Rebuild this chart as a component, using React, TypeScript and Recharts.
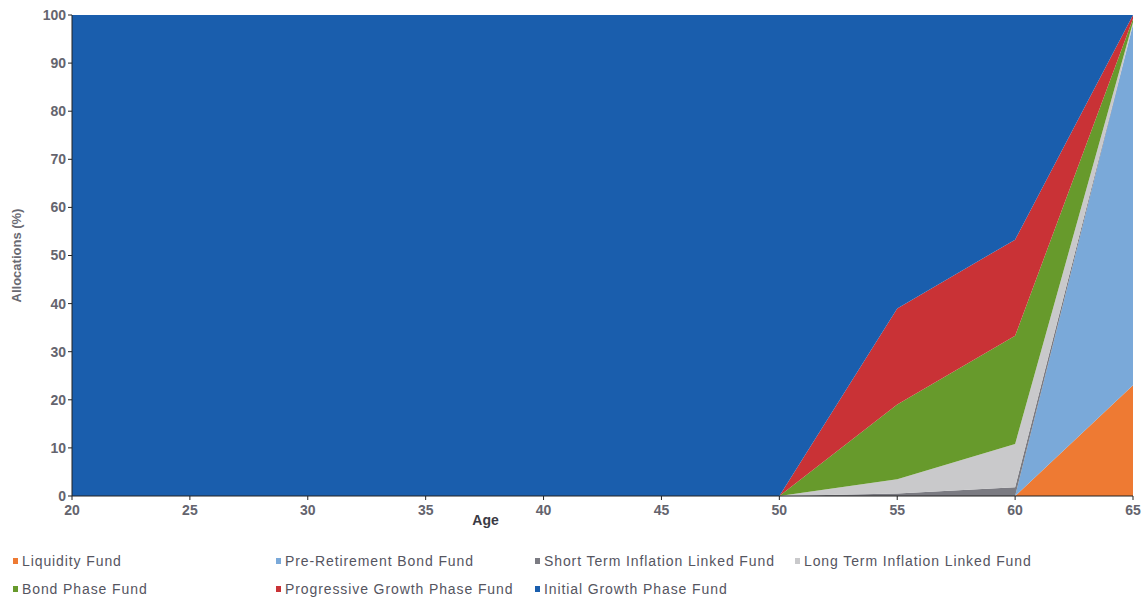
import { AreaChart, Area, XAxis, YAxis, Label } from "recharts";

const AGES = [20, 25, 30, 35, 40, 45, 50, 55, 60, 65];
const LIQUIDITY = [0, 0, 0, 0, 0, 0, 0, 0, 0, 23];
const PRE_RETIREMENT = [0, 0, 0, 0, 0, 0, 0, 0, 0, 75];
const SHORT_ILF = [0, 0, 0, 0, 0, 0, 0, 0.5, 1.8, 0];
const LONG_ILF = [0, 0, 0, 0, 0, 0, 0, 3, 9, 0.5];
const BOND_PHASE = [0, 0, 0, 0, 0, 0, 0, 15.5, 22.5, 0.7];
const PROGRESSIVE = [0, 0, 0, 0, 0, 0, 0, 20, 20, 0.8];
const INITIAL = [100, 100, 100, 100, 100, 100, 100, 61, 46.7, 0];

const Y_TICKS = [0, 10, 20, 30, 40, 50, 60, 70, 80, 90, 100];

const SERIES = [
  { key: "liquidity", name: "Liquidity Fund", color: "#ee7a33", values: LIQUIDITY },
  { key: "preRet", name: "Pre-Retirement Bond Fund", color: "#7aa9d9", values: PRE_RETIREMENT },
  { key: "shortIlf", name: "Short Term Inflation Linked Fund", color: "#7b7b82", values: SHORT_ILF },
  { key: "longIlf", name: "Long Term Inflation Linked Fund", color: "#c9c9cb", values: LONG_ILF },
  { key: "bond", name: "Bond Phase Fund", color: "#679a2c", values: BOND_PHASE },
  { key: "prog", name: "Progressive Growth Phase Fund", color: "#c93236", values: PROGRESSIVE },
  { key: "initial", name: "Initial Growth Phase Fund", color: "#1a5ead", values: INITIAL },
];

const data = AGES.map((age, i) => {
  const row: Record<string, number> = { age };
  SERIES.forEach((s) => (row[s.key] = s.values[i]));
  return row;
});

const tickStyle = {
  fontSize: 14,
  fontWeight: 700,
  fill: "#64646e",
  fontFamily: "Liberation Sans, Arial, sans-serif",
};

// legend laid out like the original: two rows, fixed columns
const LEGEND_POS: Record<string, { x: number; y: number }> = {
  liquidity: { x: 13, y: 553 },
  preRet: { x: 276, y: 553 },
  shortIlf: { x: 535, y: 553 },
  longIlf: { x: 795, y: 553 },
  bond: { x: 13, y: 581 },
  prog: { x: 276, y: 581 },
  initial: { x: 535, y: 581 },
};

export default function App() {
  return (
    <div
      style={{
        position: "absolute",
        left: 0,
        top: 0,
        width: 1145,
        height: 604,
        background: "#fff",
        fontFamily: "Liberation Sans, Arial, sans-serif",
      }}
    >
      <AreaChart
        width={1145}
        height={540}
        data={data}
        margin={{ top: 15, right: 12, bottom: 14, left: 32 }}
      >
        <XAxis
          dataKey="age"
          type="number"
          domain={[20, 65]}
          ticks={AGES}
          tick={tickStyle}
          stroke="#222"
          tickSize={4}
          tickMargin={5}
          height={30}
        >
          <Label
            value="Age"
            position="insideBottom"
            offset={1}
            dx={-117}
            style={{ fontSize: 14, fontWeight: 700, fill: "#3a3a44" }}
          />
        </XAxis>
        <YAxis
          domain={[0, 100]}
          ticks={Y_TICKS}
          tick={tickStyle}
          stroke="#222"
          tickSize={4}
          width={40}
          interval={0}
        >
          <Label
            value="Allocations (%)"
            angle={-90}
            position="insideLeft"
            offset={-16}
            style={{ textAnchor: "middle", fontSize: 13, fontWeight: 700, fill: "#6a6a72" }}
          />
        </YAxis>
        {SERIES.map((s) => (
          <Area
            key={s.key}
            dataKey={s.key}
            name={s.name}
            stackId="a"
            type="linear"
            stroke="none"
            fill={s.color}
            fillOpacity={1}
            isAnimationActive={false}
          />
        ))}
      </AreaChart>
      {SERIES.map((s) => (
        <div
          key={s.key}
          style={{
            position: "absolute",
            left: LEGEND_POS[s.key].x,
            top: LEGEND_POS[s.key].y,
            fontSize: 14,
            color: "#55555f",
            whiteSpace: "nowrap",
            display: "flex",
            alignItems: "center",
            letterSpacing: 0.9,
          }}
        >
          <span
            style={{
              display: "inline-block",
              width: 5,
              height: 6,
              background: s.color,
              marginRight: 4,
            }}
          />
          {s.name}
        </div>
      ))}
    </div>
  );
}
